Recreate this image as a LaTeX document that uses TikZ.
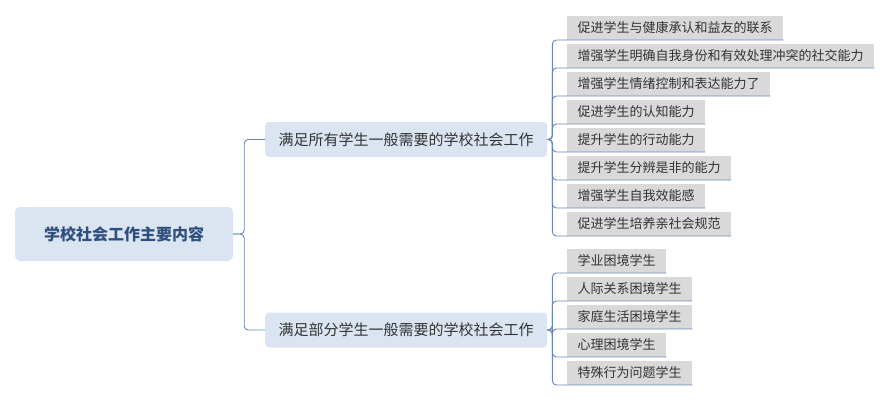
\documentclass[tikz,border=0pt]{standalone}
\usepackage{fontspec}
\setmainfont{Noto Sans CJK SC}
\usepackage{xcolor}
\definecolor{mapLine}{RGB}{104, 136, 186}
\definecolor{mapRootFill}{RGB}{219, 229, 241}
\definecolor{mapRootText}{RGB}{47, 79, 127}
\definecolor{mapLeafFill}{RGB}{217, 217, 217}
\definecolor{mapText}{RGB}{51, 51, 51}

\begin{document}
\begin{tikzpicture}[x=1pt, y=-1pt]
                    \tikzstyle{root} = [fill=mapRootFill, rounded corners=5pt, minimum width=218pt, minimum height=54pt, text=mapRootText, font=\fontsize{16}{18}\selectfont\bfseries]
                    \tikzstyle{branch} = [fill=mapRootFill, rounded corners=4pt, anchor=west, minimum height=35pt, inner xsep=13.5pt, text=mapText, font=\fontsize{15}{17}\selectfont]
                    \tikzstyle{leaf} = [fill=mapLeafFill, anchor=south west, minimum height=24pt, inner xsep=10.5pt, inner ysep=0pt, text=mapText, font=\fontsize{13}{15}\selectfont]
                    \tikzstyle{link} = [draw=mapLine, line width=0.9pt, rounded corners=4pt]
                    \useasboundingbox (0,0) rectangle (891,402);
                    \node[root] (root) at (124,234) {学校社会工作主要内容};
                    \node[branch] (all) at (265,139.5) {满足所有学生一般需要的学校社会工作};
                    \node[branch] (part) at (265,330) {满足部分学生一般需要的学校社会工作};
                    % leaves of the first branch
                    \node[leaf] (a1) at (567,40) {促进学生与健康承认和益友的联系};
                    \node[leaf] (a2) at (567,68) {增强学生明确自我身份和有效处理冲突的社交能力};
                    \node[leaf] (a3) at (567,96) {增强学生情绪控制和表达能力了};
                    \node[leaf] (a4) at (567,124) {促进学生的认知能力};
                    \node[leaf] (a5) at (567,152) {提升学生的行动能力};
                    \node[leaf] (a6) at (567,180) {提升学生分辨是非的能力};
                    \node[leaf] (a7) at (567,208) {增强学生自我效能感};
                    \node[leaf] (a8) at (567,236) {促进学生培养亲社会规范};
                    % leaves of the second branch
                    \node[leaf] (b1) at (567,273) {学业困境学生};
                    \node[leaf] (b2) at (567,301) {人际关系困境学生};
                    \node[leaf] (b3) at (567,329) {家庭生活困境学生};
                    \node[leaf] (b4) at (567,357) {心理困境学生};
                    \node[leaf] (b5) at (567,385) {特殊行为问题学生};
                    \draw[link] (root.east) -- ++(11,0) |- (all.west);
                    \draw[link] (root.east) -- ++(11,0) |- (part.west);
                    \foreach \n in {a1,a2,a3,a4,a5,a6,a7,a8}
                        \draw[link] (all.east) -- ++(5,0) |- (\n.south west) -- (\n.south east);
                    \foreach \n in {b1,b2,b3,b4,b5}
                        \draw[link] (part.east) -- ++(5,0) |- (\n.south west) -- (\n.south east);
                \end{tikzpicture}
\end{document}
